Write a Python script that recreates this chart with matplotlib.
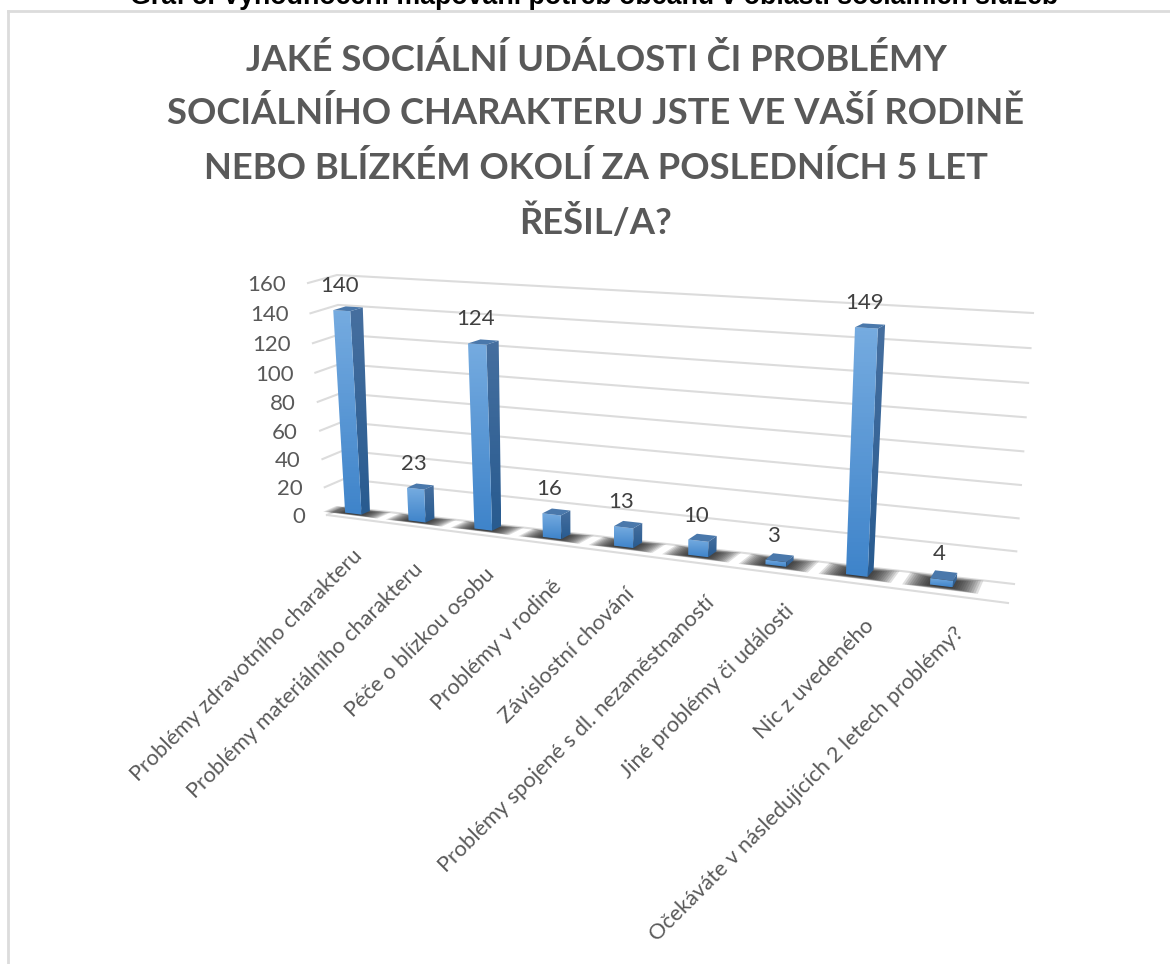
import numpy as np
import matplotlib
matplotlib.use("Agg")
import matplotlib.pyplot as plt
from matplotlib.colors import LinearSegmentedColormap
from matplotlib.patches import Polygon

categories = [
    "Problémy zdravotního charakteru",
    "Problémy materiálního charakteru",
    "Péče o blízkou osobu",
    "Problémy v rodině",
    "Závislostní chování",
    "Problémy spojené s dl. nezaměstnaností",
    "Jiné problémy či události",
    "Nic z uvedeného",
    "Očekáváte v následujících 2 letech problémy?",
]
values = [140, 23, 124, 16, 13, 10, 3, 149, 4]
y_ticks = [0, 20, 40, 60, 80, 100, 120, 140, 160]
title_lines = [
    "JAKÉ SOCIÁLNÍ UDÁLOSTI ČI PROBLÉMY",
    "SOCIÁLNÍHO CHARAKTERU JSTE VE VAŠÍ RODINĚ",
    "NEBO BLÍZKÉM OKOLÍ ZA POSLEDNÍCH 5 LET",
    "ŘEŠIL/A?",
]
caption = "Graf 5. Vyhodnocení mapování potřeb občanů v oblasti sociálních služeb"

W, H = 1170, 964
GREY = "#595959"
FONT = ["Lato", "DejaVu Sans"]

# corners of the chart box in pixels: (left low, left high, right low, right high)
back_wall = [(345, 507), (337, 275), (1014, 584), (1033, 313)]
front_wall = [(327, 515), (308, 283), (1008, 603), (1027, 321)]
# where the rotated labels end, in pixels
label_ends = [(359, 553), (420, 566), (491, 571), (558, 583), (631, 591), (711, 600), (791, 608), (871, 623), (961, 630)]


def homography(corners):
    src = [(0, 0), (0, 160), (9, 0), (9, 160)]
    a, b = [], []
    for (x, v), (px, py) in zip(src, corners):
        a.append([x, v, 1, 0, 0, 0, -px * x, -px * v])
        a.append([0, 0, 0, x, v, 1, -py * x, -py * v])
        b += [px, py]
    return np.append(np.linalg.solve(np.array(a, float), np.array(b, float)), 1).reshape(3, 3)


H_BACK = homography(back_wall)
H_FRONT = homography(front_wall)


def project(x, v, d):
    # d is depth, 0 = back wall, 1 = front edge of the floor
    out = []
    for m in (H_BACK, H_FRONT):
        p = m @ np.array([x, v, 1.0])
        out.append(p[:2] / p[2])
    return out[0] * (1 - d) + out[1] * d


fig = plt.figure(figsize=(W / 100, H / 100), dpi=100)
ax = fig.add_axes([0, 0, 1, 1])
ax.axis("off")

# outer frame of the pasted chart
ax.plot([8, 8], [H, 11], color="#dcdcdc", lw=2)
ax.plot([8, W], [11, 11], color="#dcdcdc", lw=2)

ax.text(594, 4.5, caption, ha="center", va="baseline", fontsize=19.3,
        fontweight="bold", family="Liberation Sans", color="black")

title_y = [60, 113, 168, 222]
for yy, line in zip(title_y, title_lines):
    ax.text(596, yy, line, ha="center", va="center", fontsize=26.2,
            fontweight="bold", family=FONT, color=GREY)

# gridlines, floor edge and left wall
for t in y_ticks:
    pts = np.array([project(0, t, 1), project(0, t, 0), project(9, t, 0)])
    ax.plot(pts[:, 0], pts[:, 1], color="#dcdcdc", lw=1.5, zorder=1)
    p = project(0, t, 1)
    ax.text(p[0] - 22, p[1] + 2, str(t), ha="right", va="center", fontsize=16,
            family=FONT, color=GREY)
edge = np.array([project(0, 0, 1), project(9, 0, 1)])
ax.plot(edge[:, 0], edge[:, 1], color="#dcdcdc", lw=1.5, zorder=1)

BAR_W = 0.13
D0, D1 = 0.1, 0.55
front_cmap = LinearSegmentedColormap.from_list("front", ["#75abe0", "#3f84ca"])
side_cmap = LinearSegmentedColormap.from_list("side", ["#466f9f", "#285b90"])


def shaded_face(pts, cmap, z):
    # vertical gradient clipped to the face
    pts = np.array(pts)
    patch = Polygon(pts, closed=True, facecolor="none", edgecolor="none", zorder=z)
    ax.add_patch(patch)
    im = ax.imshow(np.linspace(0, 1, 64).reshape(-1, 1), cmap=cmap, aspect="auto", zorder=z,
                   extent=(pts[:, 0].min(), pts[:, 0].max(), pts[:, 1].max(), pts[:, 1].min()))
    im.set_clip_path(patch)


for i, val in enumerate(values):
    xc = 0.29 + 0.991 * i
    x0, x1 = xc - BAR_W, xc + BAR_W
    # soft shadow on the floor
    for k in range(14):
        sx = (BAR_W + 0.3) * (1 - k / 16)
        dd = 0.3 * (1 - k / 16)
        ax.add_patch(Polygon([project(xc - sx, 0, D0 + 0.2 - dd), project(xc + sx, 0, D0 + 0.2 - dd),
                              project(xc + sx, 0, D1 + dd * 0.6), project(xc - sx, 0, D1 + dd * 0.6)],
                             closed=True, facecolor="#202020", edgecolor="none", alpha=0.14, zorder=2))
    shaded_face([project(x1, 0, D1), project(x1, 0, D0), project(x1, val, D0), project(x1, val, D1)], side_cmap, 3)
    shaded_face([project(x0, 0, D1), project(x1, 0, D1), project(x1, val, D1), project(x0, val, D1)], front_cmap, 4)
    ax.add_patch(Polygon([project(x0, val, D1), project(x1, val, D1), project(x1, val, D0), project(x0, val, D0)],
                         closed=True, facecolor="#4a78ab", edgecolor="none", zorder=4))
    p = project(xc, val, D1)
    ax.text(p[0] - 2, p[1] - 25, str(val), ha="center", va="center", fontsize=16,
            family=FONT, color="#404040", zorder=5)
    ax.text(label_ends[i][0], label_ends[i][1], categories[i], ha="right", va="center", rotation=45,
            rotation_mode="anchor", fontsize=15.7, family=FONT, color=GREY)

ax.set_xlim(0, W)
ax.set_ylim(H, 0)
fig.savefig("out.png", dpi=100)
